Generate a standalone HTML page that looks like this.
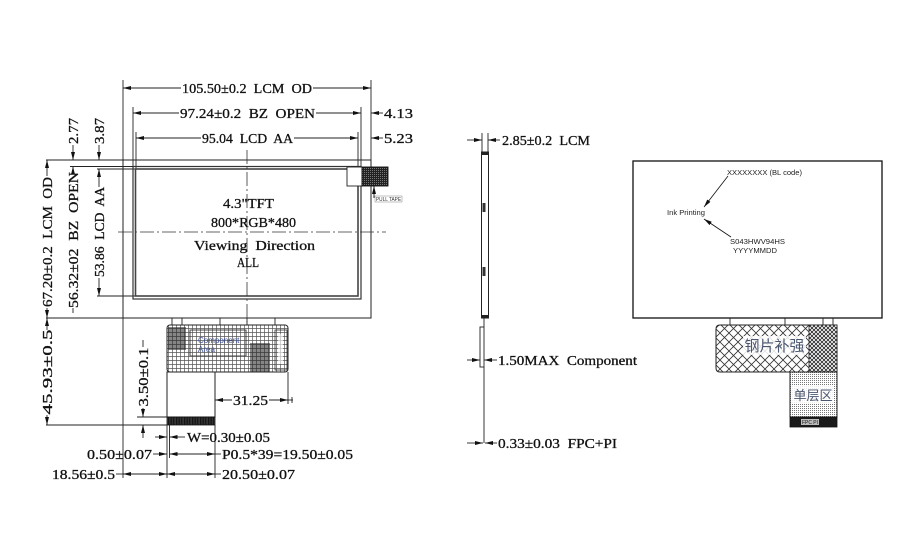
<!DOCTYPE html>
<html><head><meta charset="utf-8"><style>
html,body{margin:0;padding:0;background:#fff;}
svg{display:block;}
.t{font-family:"Liberation Serif","Noto Serif CJK SC",serif;font-size:14px;fill:#111;stroke:#111;stroke-width:0.3;white-space:pre;}
.s{font-family:"Liberation Sans",sans-serif;font-size:7.5px;fill:#222;}
.c{font-family:"Liberation Sans","Noto Sans CJK SC",sans-serif;fill:#4a5670;}
</style></head><body>
<svg width="920" height="550" viewBox="0 0 920 550" xmlns="http://www.w3.org/2000/svg" xml:space="preserve">
<defs>
<marker id="ar" viewBox="0 0 8 4" refX="8" refY="2" markerWidth="8" markerHeight="4" orient="auto-start-reverse" markerUnits="userSpaceOnUse"><path d="M0 0L8 2L0 4z" fill="#111"/></marker>
<pattern id="grid" width="4" height="4" patternUnits="userSpaceOnUse"><rect width="4" height="4" fill="#fff"/><path d="M0 0.4H4M0.4 0V4" stroke="#555" stroke-width="0.7"/></pattern>
<pattern id="xh" width="9" height="9" patternUnits="userSpaceOnUse"><rect width="9" height="9" fill="#fff"/><path d="M0 0L9 9M9 0L0 9" stroke="#333" stroke-width="0.8"/></pattern>
<pattern id="xh2" width="4" height="4" patternUnits="userSpaceOnUse"><rect width="4" height="4" fill="#fff"/><path d="M0 0L4 4M4 0L0 4" stroke="#222" stroke-width="0.8"/></pattern>
<pattern id="dots" width="2" height="2" patternUnits="userSpaceOnUse"><rect width="2" height="2" fill="#fff"/><rect width="1" height="1" fill="#777"/></pattern>
<pattern id="fing" width="1.6" height="8" patternUnits="userSpaceOnUse"><rect width="1.6" height="8" fill="#111"/><rect x="1.1" width="0.4" height="8" fill="#666"/></pattern>
<pattern id="dk" width="2" height="2" patternUnits="userSpaceOnUse"><rect width="2" height="2" fill="#222"/><rect width="1" height="1" fill="#777"/></pattern>
</defs>

<!-- ================= LEFT FRONT VIEW ================= -->
<g stroke="#222" stroke-width="0.9" fill="none">
 <line x1="123" y1="80" x2="123" y2="478"/>
 <line x1="371" y1="80" x2="371" y2="318"/>
 <line x1="133" y1="107" x2="133" y2="166"/>
 <line x1="136" y1="132" x2="136" y2="169"/>
 <line x1="358" y1="132" x2="358" y2="169"/>
 <line x1="361" y1="107" x2="361" y2="166"/>
 <line x1="123" y1="88" x2="181" y2="88" marker-start="url(#ar)"/>
 <line x1="313" y1="88" x2="371" y2="88" marker-end="url(#ar)"/>
 <line x1="133" y1="113" x2="179" y2="113" marker-start="url(#ar)"/>
 <line x1="316" y1="113" x2="361" y2="113" marker-end="url(#ar)"/>
 <line x1="371" y1="113" x2="383" y2="113" marker-start="url(#ar)"/>
 <line x1="136" y1="138" x2="201" y2="138" marker-start="url(#ar)"/>
 <line x1="294" y1="138" x2="358" y2="138" marker-end="url(#ar)"/>
 <line x1="371" y1="138" x2="383" y2="138" marker-start="url(#ar)"/>
 <line x1="46" y1="160" x2="123" y2="160"/>
 <line x1="70" y1="166.5" x2="133" y2="166.5"/>
 <line x1="97" y1="169" x2="136" y2="169"/>
 <line x1="97" y1="296" x2="136" y2="296"/>
 <line x1="46" y1="318" x2="371" y2="318"/>
 <line x1="46" y1="425" x2="167" y2="425"/>
 <line x1="137" y1="417" x2="167" y2="417"/>
 <line x1="47" y1="160" x2="47" y2="176" marker-start="url(#ar)"/>
 <line x1="47" y1="308" x2="47" y2="318" marker-end="url(#ar)"/>
 <line x1="47" y1="318" x2="47" y2="330" marker-start="url(#ar)"/>
 <line x1="47" y1="415" x2="47" y2="425" marker-end="url(#ar)"/>
 <line x1="73" y1="145" x2="73" y2="160" marker-end="url(#ar)"/>
 <line x1="73" y1="166.5" x2="73" y2="172" marker-start="url(#ar)"/>
 <line x1="73" y1="308" x2="73" y2="313"/>
 <line x1="99" y1="145" x2="99" y2="160" marker-end="url(#ar)"/>
 <line x1="99" y1="169" x2="99" y2="187" marker-start="url(#ar)"/>
 <line x1="99" y1="278" x2="99" y2="296" marker-end="url(#ar)"/>
 <line x1="143" y1="340" x2="143" y2="347"/>
 <line x1="143" y1="408" x2="143" y2="417" marker-end="url(#ar)"/>
 <line x1="143" y1="425" x2="143" y2="438" marker-start="url(#ar)"/>
 <line x1="167" y1="425" x2="167" y2="478"/>
 <line x1="169.5" y1="425" x2="169.5" y2="458"/>
 <line x1="215" y1="425" x2="215" y2="478"/>
 <line x1="288" y1="372" x2="288" y2="404"/>
 <line x1="155" y1="437" x2="167" y2="437" marker-end="url(#ar)"/>
 <line x1="169.5" y1="437" x2="185" y2="437" marker-start="url(#ar)"/>
 <line x1="153" y1="454" x2="167" y2="454" marker-end="url(#ar)"/>
 <line x1="169.5" y1="454" x2="215" y2="454" marker-start="url(#ar)" marker-end="url(#ar)"/>
 <line x1="215" y1="454" x2="221" y2="454"/>
 <line x1="116" y1="474" x2="123" y2="474"/>
 <line x1="123" y1="474" x2="167" y2="474" marker-start="url(#ar)" marker-end="url(#ar)"/>
 <line x1="167" y1="474" x2="215" y2="474" marker-start="url(#ar)" marker-end="url(#ar)"/>
 <line x1="215" y1="474" x2="221" y2="474"/>
 <line x1="215" y1="400" x2="232" y2="400" marker-start="url(#ar)"/>
 <line x1="269" y1="400" x2="288" y2="400" marker-end="url(#ar)"/>
 <line x1="288" y1="400" x2="293" y2="400"/>
 <line x1="292" y1="397" x2="292" y2="403"/>
</g>

<g fill="none">
 <rect x="123" y="160" width="248" height="158" stroke="#222" stroke-width="1"/>
 <rect x="133" y="166.5" width="228" height="132.5" stroke="#333" stroke-width="1.2"/>
 <rect x="135.5" y="169" width="222.5" height="127" stroke="#444" stroke-width="1.6"/>
 <line x1="247" y1="150" x2="247" y2="322" stroke="#333" stroke-width="0.8" stroke-dasharray="14 3 2 3"/>
 <line x1="118" y1="232" x2="386" y2="232" stroke="#333" stroke-width="0.8" stroke-dasharray="14 3 2 3"/>
</g>
<rect x="347" y="167" width="15" height="19" fill="#fff" stroke="#222" stroke-width="0.9"/>
<rect x="362" y="167" width="26" height="19" fill="url(#dk)" stroke="#111" stroke-width="0.9"/>
<line x1="374" y1="198" x2="374" y2="186" stroke="#111" stroke-width="0.9" marker-end="url(#ar)"/>
<rect x="375" y="196" width="27" height="6" fill="none" stroke="#666" stroke-width="0.4"/>
<text x="376" y="201" font-family="Liberation Sans,sans-serif" font-size="5" fill="#333" textLength="25" lengthAdjust="spacingAndGlyphs">PULL TAPE</text>

<g stroke="#222" stroke-width="0.9">
 <line x1="172" y1="318" x2="172" y2="325"/>
 <line x1="182" y1="318" x2="182" y2="325"/>
 <line x1="220" y1="318" x2="220" y2="325"/>
 <line x1="247" y1="318" x2="247" y2="325"/>
 <line x1="275" y1="318" x2="275" y2="325"/>
</g>
<rect x="167" y="325" width="121" height="47" rx="3" fill="url(#grid)" stroke="#222" stroke-width="1"/>
<rect x="168" y="327" width="18" height="23" fill="#222" opacity="0.55"/>
<rect x="190" y="330" width="56" height="26" fill="none" stroke="#333" stroke-width="0.9"/>
<text x="198" y="343" font-family="Liberation Sans,sans-serif" font-size="8" fill="#3a4f9a">Component</text>
<text x="198" y="352" font-family="Liberation Sans,sans-serif" font-size="8" fill="#3a4f9a">Area</text>
<rect x="250" y="343" width="20" height="29" fill="#222" opacity="0.55"/>
<rect x="275" y="330" width="12" height="40" fill="none" stroke="#333" stroke-width="0.8"/>
<rect x="278" y="334" width="5" height="30" fill="#fff" opacity="0.6"/>
<rect x="167" y="372" width="48" height="45" fill="#fff" stroke="#222" stroke-width="1"/>
<rect x="167" y="417" width="48" height="8" fill="url(#fing)" stroke="#111" stroke-width="0.8"/>

<text class="t" x="182" y="93" textLength="130" lengthAdjust="spacingAndGlyphs">105.50±0.2  LCM  OD</text>
<text class="t" x="180" y="118" textLength="135" lengthAdjust="spacingAndGlyphs">97.24±0.2  BZ  OPEN</text>
<text class="t" x="202" y="143" textLength="91" lengthAdjust="spacingAndGlyphs">95.04  LCD  AA</text>
<text class="t" x="384" y="118" textLength="29" lengthAdjust="spacingAndGlyphs">4.13</text>
<text class="t" x="384" y="143" textLength="29" lengthAdjust="spacingAndGlyphs">5.23</text>

<text class="t" transform="translate(52,242) rotate(-90)" text-anchor="middle" textLength="130" lengthAdjust="spacingAndGlyphs">67.20±0.2  LCM  OD</text>
<text class="t" transform="translate(52,372) rotate(-90)" text-anchor="middle" textLength="85" lengthAdjust="spacingAndGlyphs">45.93±0.5</text>
<text class="t" transform="translate(78,131) rotate(-90)" text-anchor="middle" textLength="26" lengthAdjust="spacingAndGlyphs">2.77</text>
<text class="t" transform="translate(78,240) rotate(-90)" text-anchor="middle" textLength="136" lengthAdjust="spacingAndGlyphs">56.32±02  BZ  OPEN</text>
<text class="t" transform="translate(104,131) rotate(-90)" text-anchor="middle" textLength="26" lengthAdjust="spacingAndGlyphs">3.87</text>
<text class="t" transform="translate(104,232) rotate(-90)" text-anchor="middle" textLength="90" lengthAdjust="spacingAndGlyphs">53.86  LCD  AA</text>
<text class="t" transform="translate(148,377) rotate(-90)" text-anchor="middle" textLength="59" lengthAdjust="spacingAndGlyphs">3.50±0.1</text>

<text class="t" x="223" y="208" textLength="51" lengthAdjust="spacingAndGlyphs">4.3"TFT</text>
<text class="t" x="211" y="227" textLength="85" lengthAdjust="spacingAndGlyphs">800*RGB*480</text>
<text class="t" x="194" y="250" textLength="121" lengthAdjust="spacingAndGlyphs">Viewing  Direction</text>
<text class="t" x="237" y="267" textLength="22" lengthAdjust="spacingAndGlyphs">ALL</text>

<text class="t" x="233" y="405" textLength="35" lengthAdjust="spacingAndGlyphs">31.25</text>
<text class="t" x="187" y="442" textLength="83" lengthAdjust="spacingAndGlyphs">W=0.30±0.05</text>
<text class="t" x="87" y="459" textLength="65" lengthAdjust="spacingAndGlyphs">0.50±0.07</text>
<text class="t" x="222" y="459" textLength="131" lengthAdjust="spacingAndGlyphs">P0.5*39=19.50±0.05</text>
<text class="t" x="52" y="479" textLength="63" lengthAdjust="spacingAndGlyphs">18.56±0.5</text>
<text class="t" x="222" y="479" textLength="73" lengthAdjust="spacingAndGlyphs">20.50±0.07</text>

<!-- ================= SIDE VIEW ================= -->
<g stroke="#222" stroke-width="0.9" fill="none">
 <line x1="482" y1="133" x2="482" y2="152"/>
 <line x1="488" y1="133" x2="488" y2="152"/>
 <line x1="467" y1="140" x2="482" y2="140" marker-end="url(#ar)"/>
 <line x1="488" y1="140" x2="500" y2="140" marker-start="url(#ar)"/>
 <rect x="481.5" y="152" width="7" height="166" stroke-width="1"/>
 <line x1="484" y1="318" x2="484" y2="327"/>
 <rect x="480" y="327" width="4" height="40" stroke-width="0.9"/>
 <line x1="484" y1="367" x2="484" y2="443"/>
 <line x1="467" y1="360" x2="480" y2="360" marker-end="url(#ar)"/>
 <line x1="484" y1="360" x2="497" y2="360" marker-start="url(#ar)"/>
 <line x1="467" y1="443" x2="483" y2="443" marker-end="url(#ar)"/>
 <line x1="485" y1="443" x2="497" y2="443" marker-start="url(#ar)"/>
</g>
<rect x="481.5" y="152" width="7" height="3" fill="#222"/>
<rect x="481.5" y="315" width="7" height="3" fill="#222"/>
<rect x="482.5" y="203" width="3" height="9" fill="#333"/>
<rect x="482.5" y="267" width="3" height="9" fill="#333"/>
<text class="t" x="502" y="145" textLength="88" lengthAdjust="spacingAndGlyphs">2.85±0.2  LCM</text>
<text class="t" x="498" y="365" textLength="139" lengthAdjust="spacingAndGlyphs">1.50MAX  Component</text>
<text class="t" x="498" y="448" textLength="119" lengthAdjust="spacingAndGlyphs">0.33±0.03  FPC+PI</text>

<!-- ================= REAR VIEW ================= -->
<rect x="633" y="161" width="249" height="157" fill="none" stroke="#111" stroke-width="1.3"/>
<text class="s" x="727" y="175" textLength="75" lengthAdjust="spacingAndGlyphs">XXXXXXXX (BL code)</text>
<line x1="728" y1="176" x2="704" y2="207" stroke="#111" stroke-width="0.8" marker-end="url(#ar)"/>
<text class="s" x="667" y="215" textLength="38" lengthAdjust="spacingAndGlyphs">Ink Printing</text>
<line x1="731" y1="237" x2="704" y2="219" stroke="#111" stroke-width="0.8" marker-end="url(#ar)"/>
<text class="s" x="730" y="244" textLength="55" lengthAdjust="spacingAndGlyphs">S043HWV94HS</text>
<text class="s" x="733" y="253" textLength="44" lengthAdjust="spacingAndGlyphs">YYYYMMDD</text>
<g stroke="#222" stroke-width="0.9">
 <line x1="730" y1="318" x2="730" y2="325"/>
 <line x1="785" y1="318" x2="785" y2="325"/>
 <line x1="823" y1="318" x2="823" y2="325"/>
 <line x1="833" y1="318" x2="833" y2="325"/>
</g>
<path d="M720 325H837V372H720Q716 372 716 368V329Q716 325 720 325Z" fill="url(#xh)" stroke="#222" stroke-width="1"/>
<rect x="809" y="325" width="28" height="47" fill="url(#xh2)" stroke="#222" stroke-width="0.8"/>
<rect x="743" y="336" width="63" height="19" fill="#fff" opacity="0.85"/>
<text class="c" x="774.5" y="351" font-size="15" text-anchor="middle">钢片补强</text>
<rect x="790" y="372" width="47" height="45" fill="url(#dots)" stroke="#222" stroke-width="1"/>
<rect x="792" y="386" width="42" height="18" fill="#fff" opacity="0.85"/>
<text class="c" x="813" y="400" font-size="13" text-anchor="middle" fill="#333">单层区</text>
<rect x="790" y="417" width="47" height="10" fill="#1a1a1a" stroke="#111" stroke-width="0.8"/>
<rect x="801" y="419" width="18" height="6" fill="#bbb"/>
<text x="802" y="424" font-family="Liberation Sans,sans-serif" font-size="5" fill="#111" textLength="16" lengthAdjust="spacingAndGlyphs">FPC PI</text>
</svg>
</body></html>
